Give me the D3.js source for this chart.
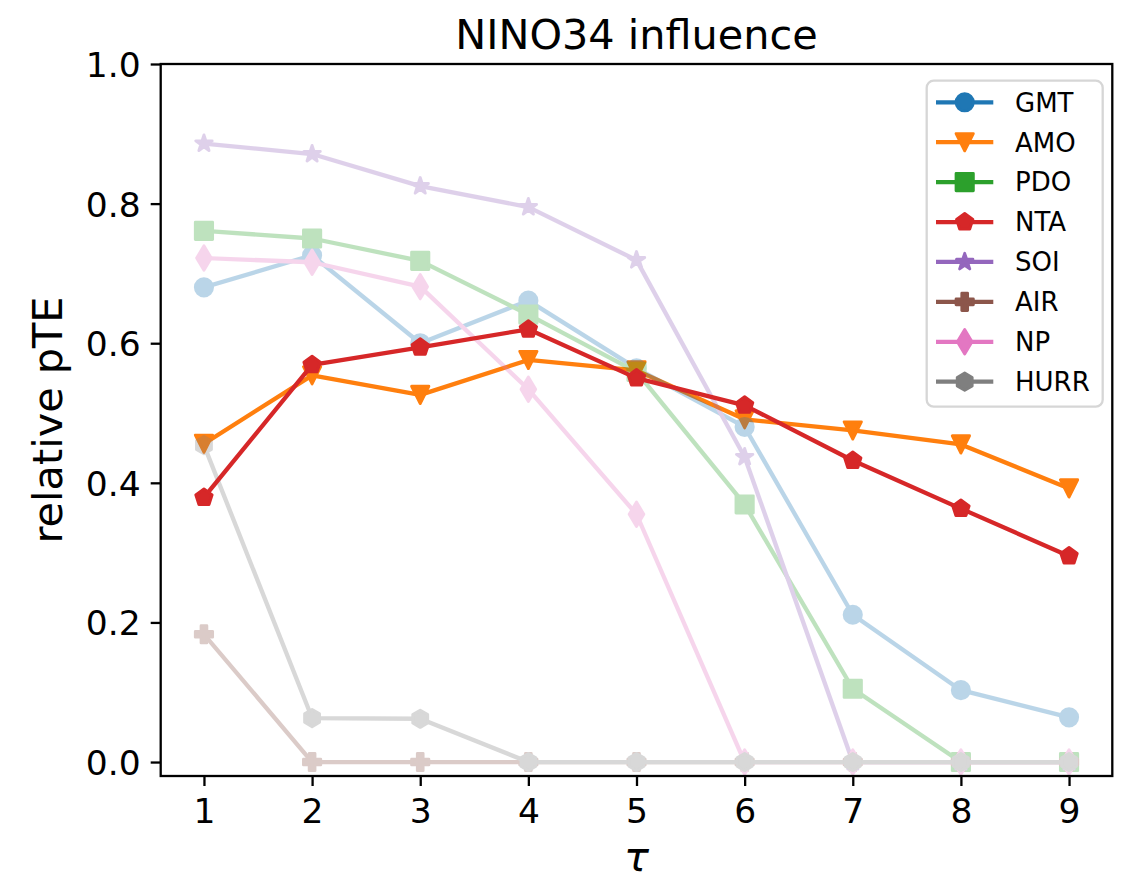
<!DOCTYPE html>
<html>
<head>
<meta charset="utf-8">
<script src="https://cdn.jsdelivr.net/npm/d3@7"></script>
<style>
  html, body { margin: 0; padding: 0; background: #ffffff; }
  svg { display: block; font-family: "DejaVu Sans", sans-serif; }
</style>
</head>
<body>
<svg id="chart" width="1128" height="886"></svg>
<script>
// ---- data ----
const tau = [1, 2, 3, 4, 5, 6, 7, 8, 9];
const seriesNames = ["GMT", "AMO", "PDO", "NTA", "SOI", "AIR", "NP", "HURR"];
const gmt  = [0.680, 0.726, 0.600, 0.661, 0.564, 0.480, 0.211, 0.103, 0.064];
const amo  = [0.456, 0.554, 0.526, 0.576, 0.561, 0.491, 0.475, 0.455, 0.392];
const pdo  = [0.761, 0.750, 0.718, 0.641, 0.559, 0.369, 0.105, 0.000, 0.000];
const nta  = [0.379, 0.569, 0.594, 0.620, 0.550, 0.511, 0.432, 0.363, 0.295];
const soi  = [0.886, 0.871, 0.825, 0.795, 0.719, 0.437, 0.000, 0.000, 0.000];
const air  = [0.183, 0.000, 0.000, 0.000, 0.000, 0.000, 0.000, 0.000, 0.000];
const np   = [0.722, 0.716, 0.681, 0.534, 0.355, 0.000, 0.000, 0.000, 0.000];
const hurr = [0.454, 0.063, 0.062, 0.000, 0.000, 0.000, 0.000, 0.000, 0.000];
const yTicks = [0.0, 0.2, 0.4, 0.6, 0.8, 1.0];
const xTicks = [1, 2, 3, 4, 5, 6, 7, 8, 9];
const titleText = "NINO34 influence";
const yLabelText = "relative pTE";
const xLabelText = "τ";

// ---- styling ----
const values = [gmt, amo, pdo, nta, soi, air, np, hurr];
const colors = ["#1f77b4", "#ff7f0e", "#2ca02c", "#d62728", "#9467bd", "#8c564b", "#e377c2", "#7f7f7f"];
const markers = ["circle", "tridown", "square", "pentagon", "star", "plus", "thindiamond", "hexagon"];
const faded = [true, false, true, false, true, true, true, true];
const fadeAlpha = 0.3;

const svg = d3.select("#chart");
const L = 160.7, R = 1112.3, T = 64, B = 776;
const x = d3.scaleLinear().domain([0.6, 9.4]).range([L, R]);
const y = d3.scaleLinear().domain([-0.02, 1.0]).range([B, T]);

const MS = 17.25;      // marker size (6pt)
const MEW = 2.875;     // marker edge width (1pt)
const LW = 4.3;        // line width (1.5pt)

function markerPath(type, ms) {
  const h = ms / 2;
  const poly = (pts) => "M" + pts.map(p => p[0].toFixed(2) + "," + p[1].toFixed(2)).join("L") + "Z";
  const regular = (n, r) => {
    const pts = [];
    for (let i = 0; i < n; i++) {
      const a = -Math.PI / 2 + i * 2 * Math.PI / n;
      pts.push([r * Math.cos(a), r * Math.sin(a)]);
    }
    return pts;
  };
  switch (type) {
    case "circle":
      return `M${h},0A${h},${h} 0 1,1 ${-h},0A${h},${h} 0 1,1 ${h},0Z`;
    case "tridown":
      return poly([[0, h], [-h, -h], [h, -h]]);
    case "square":
      return poly([[-h, -h], [h, -h], [h, h], [-h, h]]);
    case "pentagon":
      return poly(regular(5, h));
    case "hexagon":
      return poly(regular(6, h));
    case "star": {
      const pts = [];
      const ri = h * 0.381966;
      for (let i = 0; i < 10; i++) {
        const a = -Math.PI / 2 + i * Math.PI / 5;
        const r = i % 2 === 0 ? h : ri;
        pts.push([r * Math.cos(a), r * Math.sin(a)]);
      }
      return poly(pts);
    }
    case "plus": {
      const u = ms / 6;
      const raw = [[-1, -3], [1, -3], [1, -1], [3, -1], [3, 1], [1, 1], [1, 3], [-1, 3], [-1, 1], [-3, 1], [-3, -1], [-1, -1]];
      return poly(raw.map(p => [p[0] * u, p[1] * u]));
    }
    case "thindiamond": {
      const d = ms * Math.SQRT1_2;
      return poly([[0, -d], [0.6 * d, 0], [0, d], [-0.6 * d, 0]]);
    }
  }
}

const axisColor = "#000000";
const lineGen = d3.line().x((d, i) => x(tau[i])).y(d => y(d));

function drawSeries(parent, s) {
  const vals = values[s];
  const g = parent.append("g");
  g.append("path")
    .attr("d", lineGen(vals))
    .attr("fill", "none")
    .attr("stroke", colors[s])
    .attr("stroke-width", LW)
    .attr("stroke-linejoin", "round")
    .attr("stroke-linecap", "square");
  const mp = markerPath(markers[s], MS);
  g.selectAll("path.mk").data(vals).join("path")
    .attr("class", "mk")
    .attr("d", mp)
    .attr("transform", (v, i) => `translate(${x(tau[i])},${y(v)})`)
    .attr("fill", colors[s])
    .attr("stroke", colors[s])
    .attr("stroke-width", MEW)
    .attr("stroke-linejoin", "round");
}

// ---- series layers ----
const plot = svg.append("g");
// strong AMO first
values.forEach((v, s) => { if (s === 1) drawSeries(plot, s); });
// faded series as one translucent layer
const fadeLayer = plot.append("g").attr("opacity", fadeAlpha);
values.forEach((v, s) => { if (faded[s]) drawSeries(fadeLayer, s); });
// strong NTA on top
values.forEach((v, s) => { if (s === 3) drawSeries(plot, s); });

// ---- spines ----
const sw = 2.3;
svg.append("rect")
  .attr("x", L).attr("y", T).attr("width", R - L).attr("height", B - T)
  .attr("fill", "none").attr("stroke", axisColor).attr("stroke-width", sw);

// y axis
const yAxis = d3.axisLeft(y).tickValues(yTicks).tickFormat(d3.format(".1f"))
  .tickSizeInner(10).tickSizeOuter(0).tickPadding(10);
const yg = svg.append("g").attr("transform", `translate(${L},0)`).call(yAxis);
yg.select(".domain").remove();
yg.selectAll(".tick line").attr("stroke", axisColor).attr("stroke-width", sw);
yg.selectAll(".tick text").attr("font-size", 34.5).attr("fill", "#000")
  .attr("font-family", "DejaVu Sans").attr("dy", "0.36em");

// x axis
const xAxis = d3.axisBottom(x).tickValues(xTicks).tickFormat(d3.format("d"))
  .tickSizeInner(10).tickSizeOuter(0).tickPadding(10);
const xg = svg.append("g").attr("transform", `translate(0,${B})`).call(xAxis);
xg.select(".domain").remove();
xg.selectAll(".tick line").attr("stroke", axisColor).attr("stroke-width", sw);
xg.selectAll(".tick text").attr("font-size", 34.5).attr("fill", "#000")
  .attr("font-family", "DejaVu Sans").attr("dy", "0").attr("y", 47);

// title
svg.append("text")
  .attr("x", (L + R) / 2).attr("y", 48.5)
  .attr("text-anchor", "middle")
  .attr("font-size", 41.4)
  .attr("fill", "#000")
  .text(titleText);

// y label
svg.append("text")
  .attr("transform", `translate(62,${(T + B) / 2}) rotate(-90)`)
  .attr("text-anchor", "middle")
  .attr("font-size", 41.4)
  .attr("fill", "#000")
  .text(yLabelText);

// x label
svg.append("text")
  .attr("x", (L + R) / 2).attr("y", 871)
  .attr("text-anchor", "middle")
  .attr("font-size", 41.4)
  .attr("font-style", "italic")
  .attr("fill", "#000")
  .text(xLabelText);

// ---- legend ----
const lg = svg.append("g");
lg.append("rect")
  .attr("x", 926.7).attr("y", 80.7).attr("width", 176).attr("height", 326)
  .attr("rx", 7).attr("ry", 7)
  .attr("fill", "#ffffff").attr("fill-opacity", 0.8)
  .attr("stroke", "#d6d6d6").attr("stroke-width", 2.3);
const legY = d3.scaleLinear().domain([0, 7]).range([102.3, 381.7]);
seriesNames.forEach((name, s) => {
  const cy = legY(s);
  lg.append("line")
    .attr("x1", 936).attr("x2", 993.3).attr("y1", cy).attr("y2", cy)
    .attr("stroke", colors[s]).attr("stroke-width", LW);
  lg.append("path")
    .attr("d", markerPath(markers[s], MS))
    .attr("transform", `translate(964.7,${cy})`)
    .attr("fill", colors[s]).attr("stroke", colors[s]).attr("stroke-width", MEW)
    .attr("stroke-linejoin", "round");
  lg.append("text")
    .attr("x", 1015).attr("y", cy).attr("dy", "0.36em")
    .attr("font-size", 26)
    .attr("fill", "#000")
    .text(name);
});
</script>
</body>
</html>
